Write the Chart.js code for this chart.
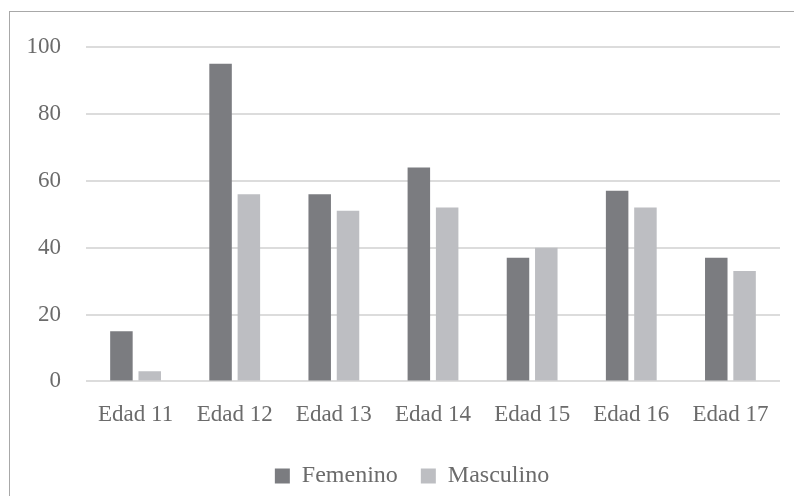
<!DOCTYPE html>
<html>
<head>
<meta charset="utf-8">
<script src="https://cdn.jsdelivr.net/npm/chart.js@4/dist/chart.umd.min.js"></script>
<style>
  html, body { margin: 0; padding: 0; background: #ffffff; }
  #wrap { position: relative; width: 794px; height: 496px; overflow: hidden; }
  #frame { position: absolute; left: 9px; top: 11px; width: 820px; height: 520px;
           border: 1.5px solid #a8a8a8; box-sizing: border-box; }
  canvas { position: absolute; left: 0; top: 0; }
</style>
</head>
<body>
<div id="wrap">
  <div id="frame"></div>
  <canvas id="chart" width="794" height="496"></canvas>
</div>
<script>
// Age groups and counts per sex
const categories = ["Edad 11", "Edad 12", "Edad 13", "Edad 14", "Edad 15", "Edad 16", "Edad 17"];
const femenino = [15, 95, 56, 64, 37, 57, 37];
const masculino = [3, 56, 51, 52, 40, 52, 33];
const yTicks = [0, 20, 40, 60, 80, 100];

const textColor = "#6b6b6b";
const fontFamily = "'Liberation Serif', 'DejaVu Serif', serif";

// Nudge the legend a little to the right of the canvas centre
const legendShift = {
  id: "legendShift",
  afterLayout(chart) {
    const lg = chart.legend;
    if (!lg) return;
    const dx = 22;
    lg.left += dx;
    lg.right += dx;
  }
};

new Chart(document.getElementById("chart"), {
  type: "bar",
  data: {
    labels: categories,
    datasets: [
      { label: "Femenino", data: femenino, backgroundColor: "#7b7c80",
        barPercentage: 0.795, categoryPercentage: 0.571 },
      { label: "Masculino", data: masculino, backgroundColor: "#bdbec2",
        barPercentage: 0.795, categoryPercentage: 0.571 }
    ]
  },
  plugins: [legendShift],
  options: {
    responsive: false,
    animation: false,
    devicePixelRatio: 1,
    layout: { padding: { left: 0, right: 14, top: 47, bottom: -2 } },
    plugins: {
      tooltip: { enabled: false },
      legend: {
        position: "bottom",
        labels: {
          color: textColor,
          font: { family: fontFamily, size: 24 },
          boxWidth: 15,
          boxHeight: 15,
          padding: 23
        }
      }
    },
    scales: {
      x: {
        grid: { display: false },
        border: { display: false },
        ticks: { color: textColor, font: { family: fontFamily, size: 23 }, padding: 12, maxRotation: 0 }
      },
      y: {
        min: 0,
        max: 100,
        afterFit: (scale) => { scale.width = 86; },
        afterBuildTicks: (scale) => { scale.ticks = yTicks.map(v => ({ value: v })); },
        grid: { color: "#dcdcdc", lineWidth: 2, drawTicks: false },
        border: { display: false },
        ticks: { color: textColor, font: { family: fontFamily, size: 23 }, padding: 25 }
      }
    }
  }
});
</script>
</body>
</html>
